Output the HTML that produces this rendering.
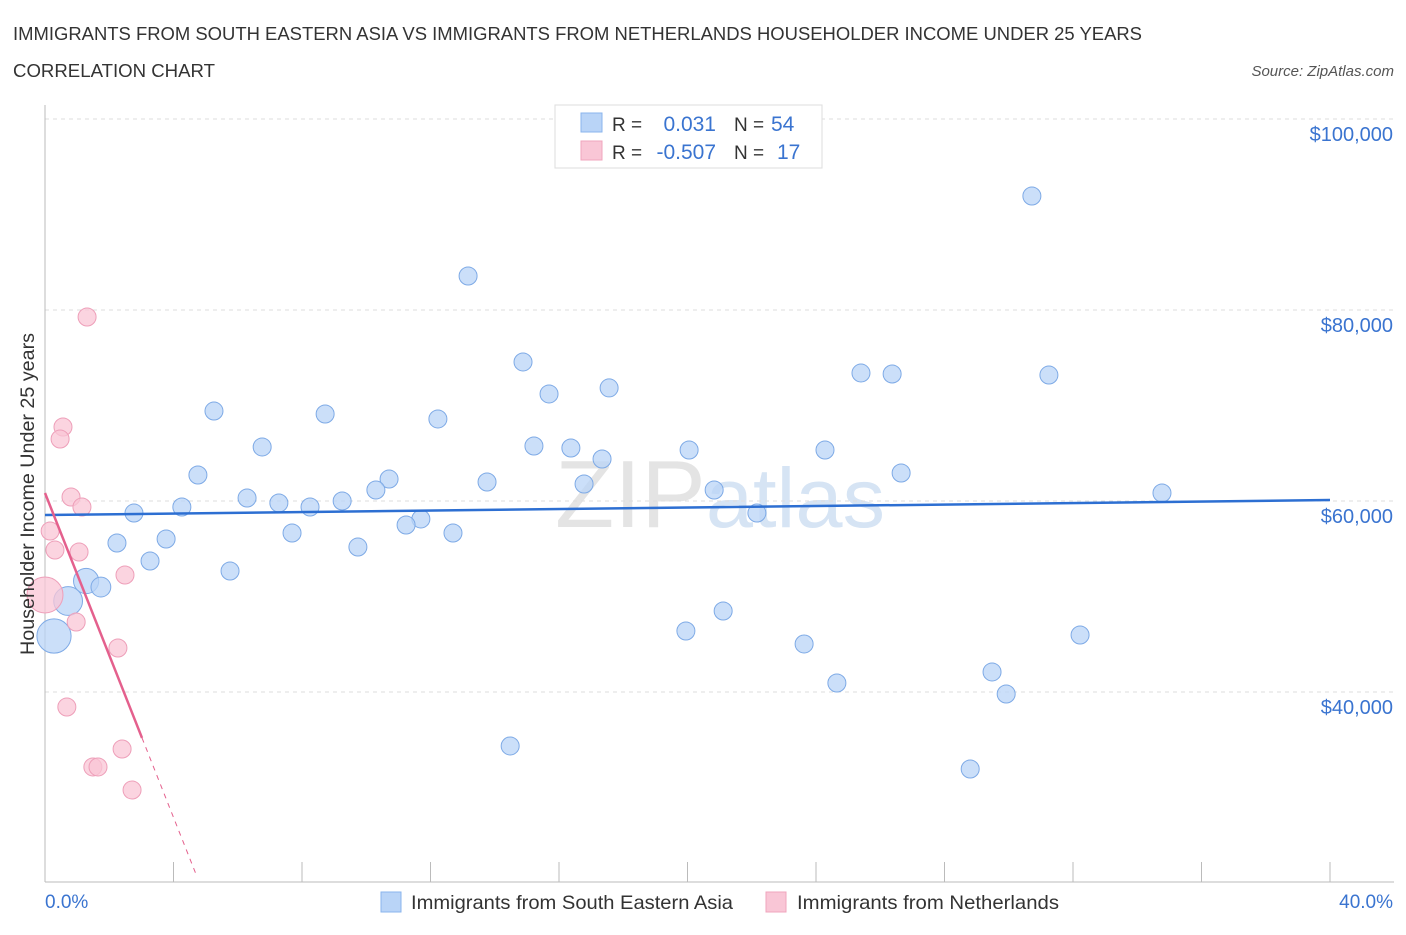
<!DOCTYPE html>
<html><head><meta charset="utf-8">
<style>
body{margin:0;background:#fff;font-family:"Liberation Sans",sans-serif;}
svg text{font-family:"Liberation Sans",sans-serif;}
</style></head>
<body>
<svg id="chart" width="1406" height="930" xmlns="http://www.w3.org/2000/svg">
<text x="13" y="40" font-size="18" fill="#333" textLength="1129" lengthAdjust="spacingAndGlyphs">IMMIGRANTS FROM SOUTH EASTERN ASIA VS IMMIGRANTS FROM NETHERLANDS HOUSEHOLDER INCOME UNDER 25 YEARS</text>
<text x="13" y="77" font-size="18" fill="#333" textLength="202" lengthAdjust="spacingAndGlyphs">CORRELATION CHART</text>
<text x="1394" y="76" font-size="15" fill="#555" text-anchor="end" font-style="italic">Source: ZipAtlas.com</text>
<text x="555" y="527" font-size="96" fill="#e4e4e4" font-family="Liberation Serif" textLength="330" lengthAdjust="spacingAndGlyphs">ZIP<tspan fill="#d6e4f4" font-family="Liberation Sans" font-size="84">atlas</tspan></text>
<g id="grid"></g>
<g id="axes"></g>
<g id="marks"></g>
<text transform="translate(34,494) rotate(-90)" font-size="19" fill="#333" text-anchor="middle" textLength="322" lengthAdjust="spacingAndGlyphs">Householder Income Under 25 years</text>
<text x="45" y="908" font-size="19" fill="#3a74d0">0.0%</text>
<text x="1393" y="908" font-size="19" fill="#3a74d0" text-anchor="end">40.0%</text>
<g>
<rect x="555" y="105" width="267" height="63" fill="#fff" stroke="#ddd"/>
<rect x="581" y="113" width="21" height="19" fill="#b9d4f7" stroke="#8ab4ec"/>
<rect x="581" y="141" width="21" height="19" fill="#f9c6d6" stroke="#f0a5bd"/>
<text x="612" y="131" font-size="19" fill="#333">R = </text><text x="716" y="131" font-size="21" fill="#3a74d0" text-anchor="end">0.031</text>
<text x="734" y="131" font-size="19" fill="#333">N = </text><text x="771" y="131" font-size="21" fill="#3a74d0">54</text>
<text x="612" y="159" font-size="19" fill="#333">R = </text><text x="716" y="159" font-size="21" fill="#3a74d0" text-anchor="end">-0.507</text>
<text x="734" y="159" font-size="19" fill="#333">N = </text><text x="777" y="159" font-size="21" fill="#3a74d0">17</text>
</g>
<g>
<rect x="381" y="892" width="20" height="20" fill="#b9d4f7" stroke="#8ab4ec"/>
<text x="411" y="909" font-size="19.5" fill="#333" textLength="322" lengthAdjust="spacingAndGlyphs">Immigrants from South Eastern Asia</text>
<rect x="766" y="892" width="20" height="20" fill="#f9c6d6" stroke="#f0a5bd"/>
<text x="797" y="909" font-size="19.5" fill="#333" textLength="262" lengthAdjust="spacingAndGlyphs">Immigrants from Netherlands</text>
</g>
</svg>
<script>
const blueX=[13.17,30.72,14.88,15.69,17.56,25.40,26.37,31.25,5.26,8.72,12.23,6.76,15.22,16.37,20.05,24.28,17.34,4.76,26.65,13.76,10.71,16.78,10.30,20.83,34.77,6.29,7.28,9.25,4.26,8.25,2.77,22.16,11.70,11.24,7.69,12.70,2.24,3.77,9.74,3.27,5.76,1.28,1.74,0.72,0.28,21.11,19.95,32.22,23.63,29.48,29.92,24.65,14.48,28.80];
const blueY=[83560,91940,74560,71210,71840,73400,73300,73190,69420,69110,68590,65660,65760,65550,65340,65340,64400,62720,62930,61990,62300,61780,61150,61150,60840,60310,59790,60000,59370,59370,58740,58740,58120,57490,56650,56650,55600,56020,55180,53720,52670,51620,50990,49530,45860,48480,46390,45970,45030,42100,39790,40940,34350,31940];
const blueSize=[1,1,1,1,1,1,1,1,1,1,1,1,1,1,1,1,1,1,1,1,1,1,1,1,1,1,1,1,1,1,1,1,1,1,1,1,1,1,1,1,1,1.4,1.1,1.6,1.9,1,1,1,1,1,1,1,1,1];
const pinkX=[1.31,0.56,0.47,0.81,1.15,0.16,0.31,1.06,2.49,0,0.97,2.27,0.68,2.40,1.49,1.65,2.71];
const pinkY=[79270,67750,66490,60420,59370,56860,54870,54660,52250,50160,47330,44610,38430,34030,32150,32150,29740];
const pinkSize=[1,1,1,1,1,1,1,1,1,2.0,1,1,1,1,1,1,1];
const blueTrend=[58530,60100]; // y at x=0 and x=40
const pinkTrend=[60840,-8493]; // intercept, slope per %
const pinkSolidEnd=3.02, pinkDashEnd=4.73;
const yTicks=[40000,60000,80000,100000];
const yTickLabels=["$40,000","$60,000","$80,000","$100,000"];
const xTicks=[0,4,8,12,16,20,24,28,32,36,40];

const NS="http://www.w3.org/2000/svg";
const X=v=>45+v/40*1285;
const Y=v=>692-(v-40000)/20000*191;
function mk(tag,attrs,parent){const e=document.createElementNS(NS,tag);for(const k in attrs)e.setAttribute(k,attrs[k]);document.getElementById(parent).appendChild(e);return e;}
yTicks.forEach((t,i)=>{
 const g=mk('line',{x1:45,x2:1394,y1:Y(t),y2:Y(t),stroke:'#ddd','stroke-dasharray':'4,4'},'grid');
 
 
 const l=mk('text',{x:1393,y:Y(t)+22,'font-size':20,fill:'#3a74d0','text-anchor':'end'},'grid');
 l.textContent=yTickLabels[i];
 
 
});
const ax=mk('line',{x1:45,x2:45,y1:105,y2:882,stroke:'#bbb'},'axes');


const bx=mk('line',{x1:45,x2:1394,y1:882,y2:882,stroke:'#bbb'},'axes');


xTicks.forEach(t=>{
 const k=mk('line',{x1:X(t),x2:X(t),y1:862,y2:882,stroke:'#bbb'},'axes');
 
 
});
blueX.forEach((v,i)=>{
 const c=mk('circle',{cx:X(v),cy:Y(blueY[i]),r:9*blueSize[i],fill:'#b9d4f7','fill-opacity':0.75,stroke:'#7eaae6','stroke-width':1},'marks');
 
 
});
pinkX.forEach((v,i)=>{
 const c=mk('circle',{cx:X(v),cy:Y(pinkY[i]),r:9*pinkSize[i],fill:'#f9c6d6','fill-opacity':0.75,stroke:'#ee9fb9','stroke-width':1},'marks');
 
 
});
const bl=mk('line',{x1:X(0),y1:Y(blueTrend[0]),x2:X(40),y2:Y(blueTrend[1]),stroke:'#2d6fd2','stroke-width':2.5},'marks');


const pl=mk('line',{x1:X(0),y1:Y(pinkTrend[0]),x2:X(pinkSolidEnd),y2:Y(pinkTrend[0]+pinkTrend[1]*pinkSolidEnd),stroke:'#e4608d','stroke-width':2.5},'marks');


const pd=mk('line',{x1:X(pinkSolidEnd),y1:Y(pinkTrend[0]+pinkTrend[1]*pinkSolidEnd),x2:X(pinkDashEnd),y2:Y(pinkTrend[0]+pinkTrend[1]*pinkDashEnd),stroke:'#e4608d','stroke-width':1,'stroke-dasharray':'5,5'},'marks');


</script>
</body></html>
